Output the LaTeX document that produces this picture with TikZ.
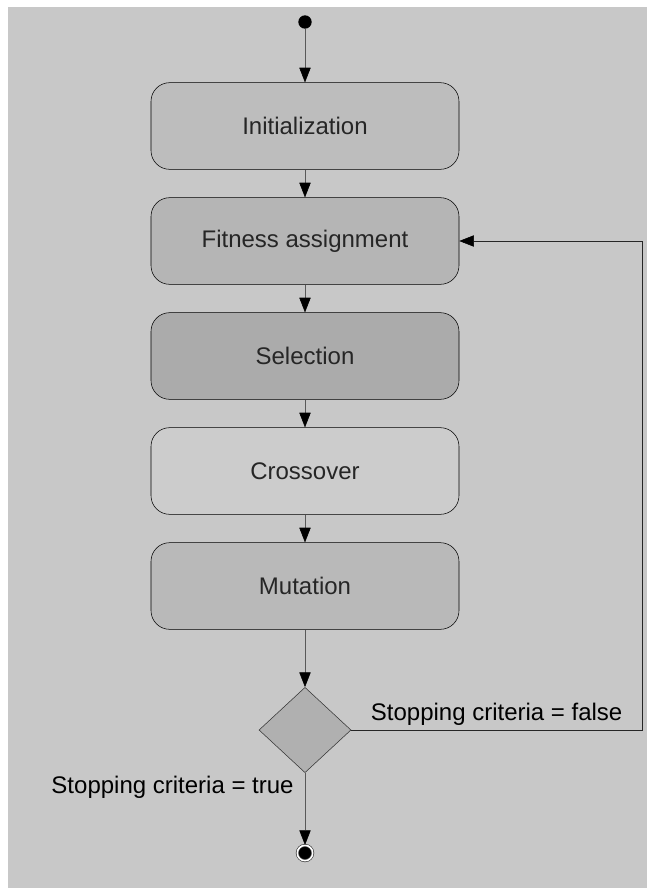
\documentclass[tikz,border=0pt]{standalone}
\usepackage{fontspec}
\setmainfont{Liberation Sans}
\usetikzlibrary{arrows.meta,shapes.geometric}
\definecolor{bggray}{gray}{0.785}
\definecolor{initgray}{gray}{0.74}
\definecolor{fitgray}{gray}{0.71}
\definecolor{selgray}{gray}{0.67}
\definecolor{crossgray}{gray}{0.80}
\definecolor{mutgray}{gray}{0.725}
\definecolor{decgray}{gray}{0.69}
\begin{document}
\begin{tikzpicture}[x=0.75pt, y=-0.75pt,
    activity/.style={rectangle, rounded corners=14pt, draw=black, thin,
      minimum width=231pt, minimum height=65pt, text=black!85,
      font=\fontsize{18}{21}\selectfont},
    decision/.style={diamond, draw=black!80, thin, fill=decgray,
      inner sep=0pt, minimum width=69pt, minimum height=64pt},
    label/.style={font=\fontsize{18}{21}\selectfont, text=black}]
  \fill [white] (0,0) rectangle (647,890);
  \fill [bggray] (8,7) rectangle (647,888);
  \begin{scope}[every node/.style={activity}]
    \node [fill=initgray] (init) at (305,126) {Initialization}; \node
    [fill=fitgray] (fit) at (305,241) {Fitness assignment}; \node
    [fill=selgray] (sel) at (305,356) {Selection}; \node
    [fill=crossgray] (cross) at (305,471) {Crossover}; \node
    [fill=mutgray] (mut) at (305,586) {Mutation};
  \end{scope}
  \node [decision] (dec) at (305,730) {};
  \node [circle, fill=black, inner sep=0pt, minimum size=10pt] (start) at
  (305,22) {}; \node [circle, fill=black, inner sep=0pt, minimum
  size=11.5pt, draw=black!75, line width=0.5pt, double=white!85,
  double distance=1.2pt] (stop) at (305,853) {};
  \coordinate (back) at (642,730);
  \begin{scope}[-{Triangle[length=11pt, width=8.5pt, color=black]},
    draw=black!65, thin]
    \draw (start) to (init); \draw (init) to (fit); \draw (fit) to
    (sel); \draw (sel) to (cross); \draw (cross) to (mut); \draw (mut)
    to (dec); \draw (dec) to node [label, left, pos=0.2, xshift=-5pt]
    {Stopping criteria = true} (stop); \draw [draw=black!85] (dec) to
    node [label, above] {Stopping criteria = false} (back) |- (fit);
  \end{scope}
\end{tikzpicture}
\end{document}
